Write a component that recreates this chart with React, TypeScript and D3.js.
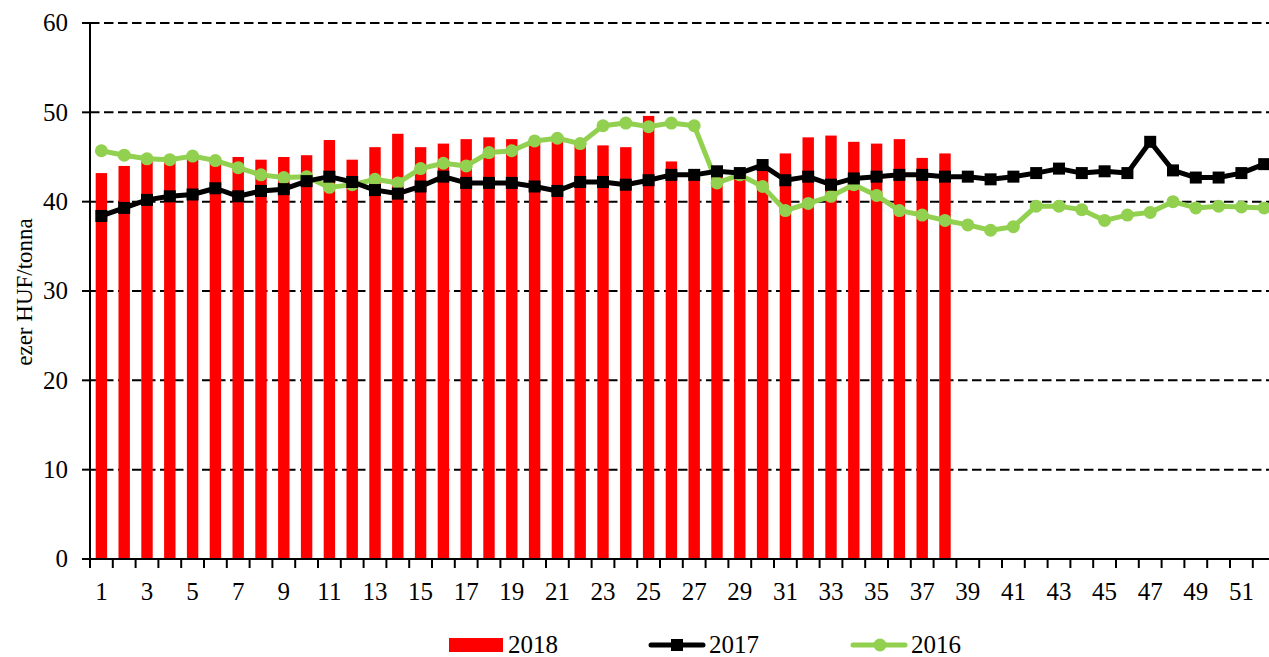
import React, { useEffect, useRef } from "react"
import * as d3 from "d3"

const weeks = d3.range(1, 53)
const values2018 = [
  43.2, 44.0, 44.5, 44.6, 44.8, 44.6, 45.0, 44.7, 45.0, 45.2, 46.9, 44.7, 46.1,
  47.6, 46.1, 46.5, 47.0, 47.2, 47.0, 46.9, 47.0, 46.7, 46.3, 46.1, 49.6, 44.5,
  43.3, 43.0, 43.0, 43.5, 45.4, 47.2, 47.4, 46.7, 46.5, 47.0, 44.9, 45.4,
]
const values2017 = [
  38.4, 39.3, 40.2, 40.6, 40.8, 41.5, 40.6, 41.2, 41.4, 42.3, 42.8, 42.2, 41.3,
  40.9, 41.7, 42.8, 42.1, 42.1, 42.1, 41.7, 41.2, 42.2, 42.2, 41.9, 42.4, 43.0,
  43.0, 43.4, 43.2, 44.1, 42.4, 42.8, 41.9, 42.6, 42.8, 43.0, 43.0, 42.8, 42.8,
  42.5, 42.8, 43.2, 43.7, 43.2, 43.4, 43.2, 46.7, 43.5, 42.7, 42.7, 43.2, 44.2,
]
const values2016 = [
  45.7, 45.2, 44.8, 44.7, 45.1, 44.6, 43.8, 43.0, 42.7, 42.8, 41.6, 41.9, 42.5,
  42.1, 43.7, 44.3, 44.0, 45.5, 45.7, 46.8, 47.1, 46.5, 48.5, 48.8, 48.4, 48.8,
  48.5, 42.1, 43.0, 41.7, 39.0, 39.8, 40.6, 41.9, 40.7, 39.0, 38.5, 37.9, 37.4,
  36.8, 37.2, 39.5, 39.5, 39.1, 37.9, 38.5, 38.8, 40.0, 39.3, 39.5, 39.4, 39.3,
]
const yTicks = [0, 10, 20, 30, 40, 50, 60]
const xTickLabels = weeks.filter((w) => w % 2 === 1)

const W = 1269
const H = 657
const FONT = "'Liberation Serif', 'Times New Roman', serif"

const App = () => {
  const ref = useRef<SVGSVGElement>(null)

  useEffect(() => {
    const svg = d3.select(ref.current)
    svg.selectAll("*").remove()

    const left = 90
    const x = d3
      .scaleBand<number>()
      .domain(weeks)
      .range([left, left + 22.8 * 52])
      .paddingInner(0.5)
      .paddingOuter(0.25)
    const xc = (w: number) => (x(w) as number) + x.bandwidth() / 2
    const step = x.step()
    const y = d3.scaleLinear().domain([0, 60]).range([559, 23])

    // grid
    svg
      .append("g")
      .selectAll("line")
      .data(yTicks.filter((t) => t > 0))
      .join("line")
      .attr("x1", left)
      .attr("x2", W)
      .attr("y1", (d) => y(d))
      .attr("y2", (d) => y(d))
      .attr("stroke", "#000")
      .attr("stroke-width", 2)
      .attr("stroke-dasharray", "9.5,4.5")

    // bars
    svg
      .append("g")
      .selectAll("rect")
      .data(values2018)
      .join("rect")
      .attr("x", (d, i) => x(weeks[i]) as number)
      .attr("width", x.bandwidth())
      .attr("y", (d) => y(d))
      .attr("height", (d) => y(0) - y(d))
      .attr("fill", "#ff0000")

    // axes
    const yAxis = svg.append("g")
    yAxis
      .append("line")
      .attr("x1", left)
      .attr("x2", left)
      .attr("y1", y(60))
      .attr("y2", y(0))
      .attr("stroke", "#000")
      .attr("stroke-width", 2)
    yAxis
      .selectAll("line.tick")
      .data(yTicks)
      .join("line")
      .attr("class", "tick")
      .attr("x1", left - 8)
      .attr("x2", left)
      .attr("y1", (d) => y(d))
      .attr("y2", (d) => y(d))
      .attr("stroke", "#000")
      .attr("stroke-width", 2)
    yAxis
      .selectAll("text")
      .data(yTicks)
      .join("text")
      .attr("x", 68)
      .attr("y", (d) => y(d))
      .attr("dy", "0.33em")
      .attr("text-anchor", "end")
      .attr("font-family", FONT)
      .attr("font-size", 25)
      .text((d) => d)

    const xAxis = svg.append("g")
    xAxis
      .append("line")
      .attr("x1", left)
      .attr("x2", W)
      .attr("y1", y(0))
      .attr("y2", y(0))
      .attr("stroke", "#000")
      .attr("stroke-width", 2)
    xAxis
      .selectAll("line.tick")
      .data(weeks)
      .join("line")
      .attr("class", "tick")
      .attr("x1", (d) => (x(d) as number) - step * 0.25)
      .attr("x2", (d) => (x(d) as number) - step * 0.25)
      .attr("y1", y(0))
      .attr("y2", y(0) + 9)
      .attr("stroke", "#000")
      .attr("stroke-width", 2)
    xAxis
      .selectAll("text")
      .data(xTickLabels)
      .join("text")
      .attr("x", (d) => xc(d))
      .attr("y", 600)
      .attr("text-anchor", "middle")
      .attr("font-family", FONT)
      .attr("font-size", 25)
      .text((d) => d)

    svg
      .append("text")
      .attr("transform", "translate(32,292) rotate(-90)")
      .attr("text-anchor", "middle")
      .attr("font-family", FONT)
      .attr("font-size", 23)
      .text("ezer HUF/tonna")

    // lines
    const line = d3
      .line<number>()
      .x((d, i) => xc(weeks[i]))
      .y((d) => y(d))

    svg
      .append("path")
      .datum(values2016)
      .attr("d", line)
      .attr("fill", "none")
      .attr("stroke", "#92d050")
      .attr("stroke-width", 5)
      .attr("stroke-linejoin", "round")
    svg
      .append("g")
      .selectAll("circle")
      .data(values2016)
      .join("circle")
      .attr("cx", (d, i) => xc(weeks[i]))
      .attr("cy", (d) => y(d))
      .attr("r", 6.5)
      .attr("fill", "#92d050")

    svg
      .append("path")
      .datum(values2017)
      .attr("d", line)
      .attr("fill", "none")
      .attr("stroke", "#000")
      .attr("stroke-width", 5)
      .attr("stroke-linejoin", "round")
    svg
      .append("g")
      .selectAll("rect")
      .data(values2017)
      .join("rect")
      .attr("x", (d, i) => xc(weeks[i]) - 6)
      .attr("y", (d) => y(d) - 6)
      .attr("width", 12)
      .attr("height", 12)
      .attr("fill", "#000")

    // legend
    const lg = svg.append("g").attr("font-family", FONT).attr("font-size", 25)
    lg.append("rect")
      .attr("x", 449)
      .attr("y", 638)
      .attr("width", 54)
      .attr("height", 14)
      .attr("fill", "#ff0000")
    lg.append("text").attr("x", 508).attr("y", 653).text("2018")

    lg.append("line")
      .attr("x1", 651)
      .attr("x2", 703)
      .attr("y1", 645)
      .attr("y2", 645)
      .attr("stroke", "#000")
      .attr("stroke-width", 5)
      .attr("stroke-linecap", "round")
    lg.append("rect")
      .attr("x", 671)
      .attr("y", 639)
      .attr("width", 12)
      .attr("height", 12)
      .attr("fill", "#000")
    lg.append("text").attr("x", 709).attr("y", 653).text("2017")

    lg.append("line")
      .attr("x1", 853)
      .attr("x2", 905)
      .attr("y1", 645)
      .attr("y2", 645)
      .attr("stroke", "#92d050")
      .attr("stroke-width", 5)
      .attr("stroke-linecap", "round")
    lg.append("circle")
      .attr("cx", 880)
      .attr("cy", 645)
      .attr("r", 6.5)
      .attr("fill", "#92d050")
    lg.append("text").attr("x", 911).attr("y", 653).text("2016")
  }, [])

  return (
    <svg
      ref={ref}
      width={W}
      height={H}
      style={{ position: "absolute", left: 0, top: 0, background: "#fff" }}
    />
  )
}

export default App
